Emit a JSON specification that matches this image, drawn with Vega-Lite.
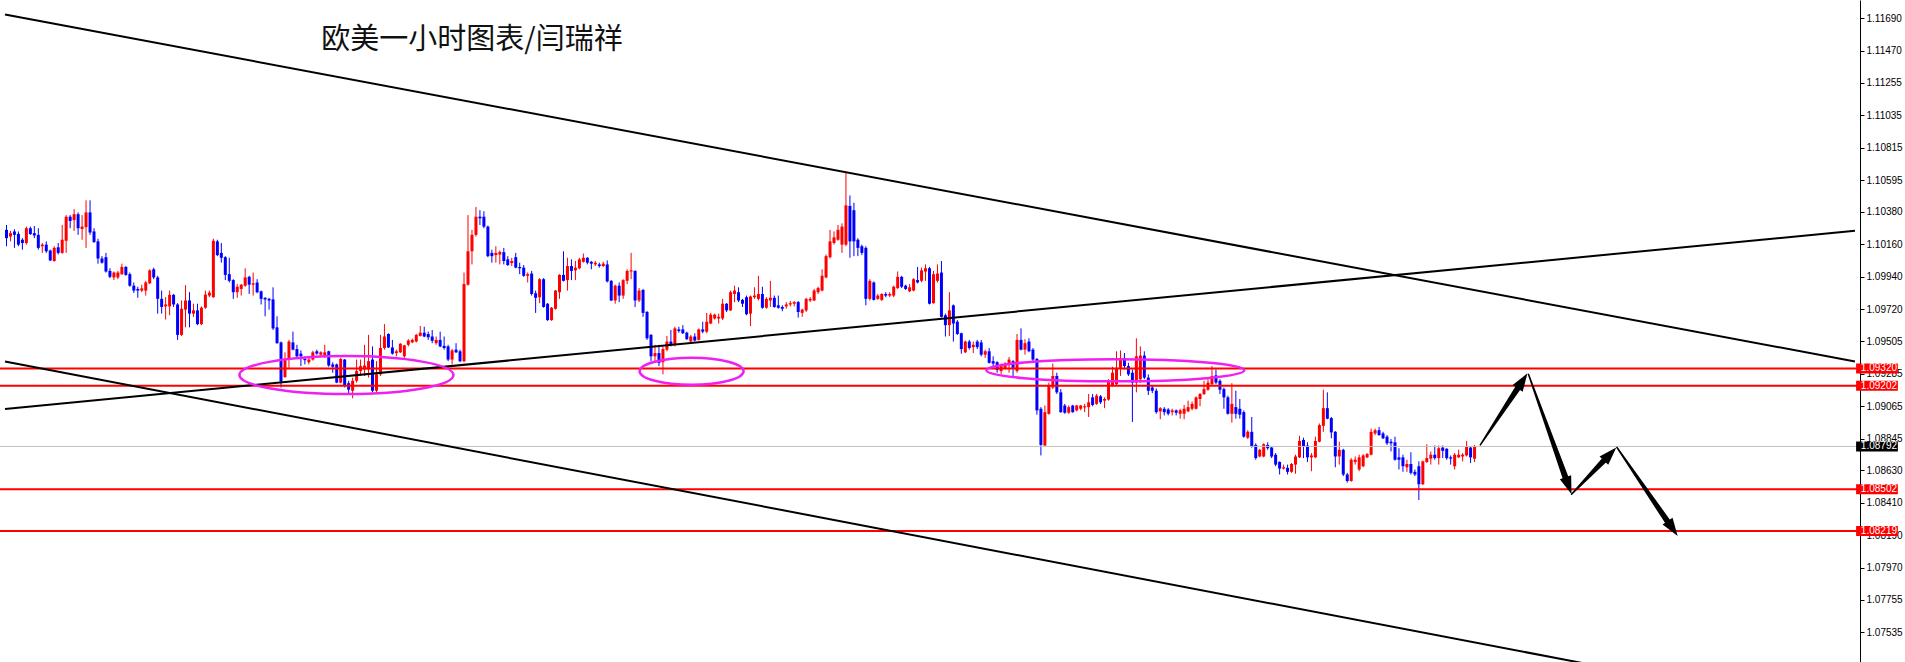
{
"$schema":"https://vega.github.io/schema/vega-lite/v6.json",
"width":1860,"height":662,"autosize":"none","padding":{"left":0,"top":0,"right":45,"bottom":0},"background":"white",
"config":{"view":{"stroke":null},"font":"Liberation Sans",
 "axisY":{"grid":false,"domainColor":"#000000","domainWidth":1,"tickColor":"#000000","tickSize":4,"tickWidth":1,"labelColor":"#000000","labelFont":"Liberation Sans","labelFontSize":10,"labelPadding":2,"labelBaseline":"middle","labelOverlap":false,"labelFlush":false,"title":null}},
"resolve":{"scale":{"shape":"independent"}},
"datasets":{
"candles":[
{"t":0,"o":1.10258,"h":1.10291,"l":1.10147,"c":1.10202},
{"t":1,"o":1.10213,"h":1.10251,"l":1.10180,"c":1.10236},
{"t":2,"o":1.10247,"h":1.10262,"l":1.10136,"c":1.10224},
{"t":3,"o":1.10231,"h":1.10247,"l":1.10147,"c":1.10158},
{"t":4,"o":1.10191,"h":1.10202,"l":1.10124,"c":1.10169},
{"t":5,"o":1.10169,"h":1.10280,"l":1.10158,"c":1.10269},
{"t":6,"o":1.10269,"h":1.10280,"l":1.10224,"c":1.10229},
{"t":7,"o":1.10236,"h":1.10284,"l":1.10202,"c":1.10220},
{"t":8,"o":1.10224,"h":1.10269,"l":1.10124,"c":1.10136},
{"t":9,"o":1.10147,"h":1.10169,"l":1.10102,"c":1.10158},
{"t":10,"o":1.10158,"h":1.10180,"l":1.10102,"c":1.10113},
{"t":11,"o":1.10118,"h":1.10124,"l":1.10047,"c":1.10051},
{"t":12,"o":1.10047,"h":1.10147,"l":1.10042,"c":1.10136},
{"t":13,"o":1.10140,"h":1.10169,"l":1.10091,"c":1.10102},
{"t":14,"o":1.10102,"h":1.10291,"l":1.10096,"c":1.10191},
{"t":15,"o":1.10184,"h":1.10358,"l":1.10102,"c":1.10347},
{"t":16,"o":1.10347,"h":1.10358,"l":1.10269,"c":1.10318},
{"t":17,"o":1.10324,"h":1.10398,"l":1.10251,"c":1.10364},
{"t":18,"o":1.10364,"h":1.10376,"l":1.10224,"c":1.10269},
{"t":19,"o":1.10264,"h":1.10358,"l":1.10191,"c":1.10280},
{"t":20,"o":1.10276,"h":1.10458,"l":1.10136,"c":1.10376},
{"t":21,"o":1.10376,"h":1.10458,"l":1.10224,"c":1.10240},
{"t":22,"o":1.10247,"h":1.10269,"l":1.10169,"c":1.10176},
{"t":23,"o":1.10180,"h":1.10198,"l":1.10029,"c":1.10064},
{"t":24,"o":1.10064,"h":1.10080,"l":1.10029,"c":1.10036},
{"t":25,"o":1.10073,"h":1.10102,"l":1.09969,"c":1.09976},
{"t":26,"o":1.09980,"h":1.09998,"l":1.09931,"c":1.09940},
{"t":27,"o":1.09936,"h":1.09976,"l":1.09918,"c":1.09969},
{"t":28,"o":1.09936,"h":1.09980,"l":1.09924,"c":1.09969},
{"t":29,"o":1.09958,"h":1.10029,"l":1.09953,"c":1.10007},
{"t":30,"o":1.10007,"h":1.10013,"l":1.09947,"c":1.09953},
{"t":31,"o":1.09958,"h":1.09969,"l":1.09873,"c":1.09880},
{"t":32,"o":1.09880,"h":1.09902,"l":1.09831,"c":1.09847},
{"t":33,"o":1.09858,"h":1.09873,"l":1.09798,"c":1.09847},
{"t":34,"o":1.09847,"h":1.09887,"l":1.09836,"c":1.09862},
{"t":35,"o":1.09847,"h":1.09913,"l":1.09813,"c":1.09902},
{"t":36,"o":1.09896,"h":1.09991,"l":1.09891,"c":1.09984},
{"t":37,"o":1.09991,"h":1.10002,"l":1.09924,"c":1.09936},
{"t":38,"o":1.09936,"h":1.09947,"l":1.09691,"c":1.09791},
{"t":39,"o":1.09791,"h":1.09847,"l":1.09691,"c":1.09736},
{"t":40,"o":1.09740,"h":1.09802,"l":1.09651,"c":1.09753},
{"t":41,"o":1.09740,"h":1.09847,"l":1.09680,"c":1.09818},
{"t":42,"o":1.09818,"h":1.09824,"l":1.09736,"c":1.09753},
{"t":43,"o":1.09753,"h":1.09762,"l":1.09513,"c":1.09547},
{"t":44,"o":1.09547,"h":1.09780,"l":1.09540,"c":1.09724},
{"t":45,"o":1.09718,"h":1.09884,"l":1.09598,"c":1.09780},
{"t":46,"o":1.09780,"h":1.09836,"l":1.09598,"c":1.09691},
{"t":47,"o":1.09691,"h":1.09758,"l":1.09669,"c":1.09713},
{"t":48,"o":1.09713,"h":1.09758,"l":1.09613,"c":1.09620},
{"t":49,"o":1.09620,"h":1.09740,"l":1.09613,"c":1.09731},
{"t":50,"o":1.09731,"h":1.09847,"l":1.09724,"c":1.09820},
{"t":51,"o":1.09813,"h":1.09847,"l":1.09802,"c":1.09833},
{"t":52,"o":1.09802,"h":1.10198,"l":1.09798,"c":1.10184},
{"t":53,"o":1.10180,"h":1.10191,"l":1.10080,"c":1.10087},
{"t":54,"o":1.10102,"h":1.10169,"l":1.10036,"c":1.10069},
{"t":55,"o":1.10073,"h":1.10080,"l":1.09918,"c":1.09953},
{"t":56,"o":1.09958,"h":1.10069,"l":1.09902,"c":1.09913},
{"t":57,"o":1.09918,"h":1.09924,"l":1.09791,"c":1.09836},
{"t":58,"o":1.09836,"h":1.09891,"l":1.09798,"c":1.09873},
{"t":59,"o":1.09858,"h":1.09891,"l":1.09813,"c":1.09887},
{"t":60,"o":1.09880,"h":1.09998,"l":1.09873,"c":1.09936},
{"t":61,"o":1.09940,"h":1.09947,"l":1.09824,"c":1.09887},
{"t":62,"o":1.09887,"h":1.09969,"l":1.09813,"c":1.09896},
{"t":63,"o":1.09902,"h":1.09924,"l":1.09829,"c":1.09836},
{"t":64,"o":1.09842,"h":1.09847,"l":1.09753,"c":1.09791},
{"t":65,"o":1.09798,"h":1.09802,"l":1.09673,"c":1.09787},
{"t":66,"o":1.09791,"h":1.09798,"l":1.09718,"c":1.09780},
{"t":67,"o":1.09787,"h":1.09869,"l":1.09580,"c":1.09591},
{"t":68,"o":1.09598,"h":1.09673,"l":1.09487,"c":1.09491},
{"t":69,"o":1.09496,"h":1.09502,"l":1.09191,"c":1.09231},
{"t":70,"o":1.09262,"h":1.09429,"l":1.09256,"c":1.09380},
{"t":71,"o":1.09380,"h":1.09513,"l":1.09324,"c":1.09502},
{"t":72,"o":1.09496,"h":1.09569,"l":1.09442,"c":1.09447},
{"t":73,"o":1.09451,"h":1.09480,"l":1.09391,"c":1.09402},
{"t":74,"o":1.09420,"h":1.09442,"l":1.09336,"c":1.09402},
{"t":75,"o":1.09384,"h":1.09402,"l":1.09347,"c":1.09376},
{"t":76,"o":1.09362,"h":1.09391,"l":1.09347,"c":1.09380},
{"t":77,"o":1.09380,"h":1.09440,"l":1.09373,"c":1.09429},
{"t":78,"o":1.09436,"h":1.09447,"l":1.09413,"c":1.09420},
{"t":79,"o":1.09413,"h":1.09436,"l":1.09402,"c":1.09429},
{"t":80,"o":1.09402,"h":1.09480,"l":1.09391,"c":1.09429},
{"t":81,"o":1.09436,"h":1.09440,"l":1.09331,"c":1.09340},
{"t":82,"o":1.09347,"h":1.09362,"l":1.09291,"c":1.09331},
{"t":83,"o":1.09347,"h":1.09353,"l":1.09220,"c":1.09224},
{"t":84,"o":1.09224,"h":1.09391,"l":1.09220,"c":1.09384},
{"t":85,"o":1.09380,"h":1.09384,"l":1.09191,"c":1.09202},
{"t":86,"o":1.09220,"h":1.09236,"l":1.09153,"c":1.09176},
{"t":87,"o":1.09169,"h":1.09258,"l":1.09118,"c":1.09236},
{"t":88,"o":1.09236,"h":1.09380,"l":1.09224,"c":1.09302},
{"t":89,"o":1.09302,"h":1.09380,"l":1.09269,"c":1.09336},
{"t":90,"o":1.09313,"h":1.09480,"l":1.09269,"c":1.09340},
{"t":91,"o":1.09313,"h":1.09547,"l":1.09258,"c":1.09369},
{"t":92,"o":1.09380,"h":1.09469,"l":1.09158,"c":1.09169},
{"t":93,"o":1.09169,"h":1.09369,"l":1.09158,"c":1.09280},
{"t":94,"o":1.09280,"h":1.09547,"l":1.09269,"c":1.09458},
{"t":95,"o":1.09458,"h":1.09620,"l":1.09447,"c":1.09536},
{"t":96,"o":1.09553,"h":1.09558,"l":1.09458,"c":1.09462},
{"t":97,"o":1.09462,"h":1.09513,"l":1.09413,"c":1.09420},
{"t":98,"o":1.09424,"h":1.09447,"l":1.09402,"c":1.09436},
{"t":99,"o":1.09429,"h":1.09491,"l":1.09424,"c":1.09487},
{"t":100,"o":1.09402,"h":1.09480,"l":1.09391,"c":1.09476},
{"t":101,"o":1.09480,"h":1.09518,"l":1.09469,"c":1.09509},
{"t":102,"o":1.09496,"h":1.09522,"l":1.09491,"c":1.09513},
{"t":103,"o":1.09502,"h":1.09553,"l":1.09496,"c":1.09547},
{"t":104,"o":1.09540,"h":1.09607,"l":1.09536,"c":1.09562},
{"t":105,"o":1.09562,"h":1.09602,"l":1.09531,"c":1.09536},
{"t":106,"o":1.09553,"h":1.09569,"l":1.09513,"c":1.09531},
{"t":107,"o":1.09536,"h":1.09580,"l":1.09491,"c":1.09507},
{"t":108,"o":1.09491,"h":1.09536,"l":1.09480,"c":1.09513},
{"t":109,"o":1.09513,"h":1.09569,"l":1.09464,"c":1.09469},
{"t":110,"o":1.09473,"h":1.09536,"l":1.09447,"c":1.09458},
{"t":111,"o":1.09469,"h":1.09480,"l":1.09369,"c":1.09380},
{"t":112,"o":1.09380,"h":1.09451,"l":1.09347,"c":1.09442},
{"t":113,"o":1.09447,"h":1.09491,"l":1.09424,"c":1.09429},
{"t":114,"o":1.09436,"h":1.09447,"l":1.09362,"c":1.09369},
{"t":115,"o":1.09369,"h":1.09969,"l":1.09362,"c":1.09891},
{"t":116,"o":1.09887,"h":1.10358,"l":1.09880,"c":1.10113},
{"t":117,"o":1.10113,"h":1.10258,"l":1.10024,"c":1.10224},
{"t":118,"o":1.10224,"h":1.10413,"l":1.10213,"c":1.10347},
{"t":119,"o":1.10347,"h":1.10391,"l":1.10291,"c":1.10336},
{"t":120,"o":1.10347,"h":1.10384,"l":1.10269,"c":1.10280},
{"t":121,"o":1.10280,"h":1.10287,"l":1.10073,"c":1.10080},
{"t":122,"o":1.10102,"h":1.10124,"l":1.10036,"c":1.10080},
{"t":123,"o":1.10087,"h":1.10147,"l":1.10036,"c":1.10102},
{"t":124,"o":1.10091,"h":1.10118,"l":1.10024,"c":1.10109},
{"t":125,"o":1.10107,"h":1.10136,"l":1.10024,"c":1.10047},
{"t":126,"o":1.10058,"h":1.10080,"l":1.10013,"c":1.10020},
{"t":127,"o":1.10033,"h":1.10069,"l":1.10013,"c":1.10047},
{"t":128,"o":1.10073,"h":1.10102,"l":1.09998,"c":1.10002},
{"t":129,"o":1.10007,"h":1.10036,"l":1.09958,"c":1.09998},
{"t":130,"o":1.10002,"h":1.10020,"l":1.09940,"c":1.09947},
{"t":131,"o":1.09947,"h":1.09969,"l":1.09902,"c":1.09958},
{"t":132,"o":1.09962,"h":1.09980,"l":1.09813,"c":1.09824},
{"t":133,"o":1.09829,"h":1.09847,"l":1.09696,"c":1.09798},
{"t":134,"o":1.09802,"h":1.09931,"l":1.09762,"c":1.09924},
{"t":135,"o":1.09924,"h":1.09931,"l":1.09731,"c":1.09736},
{"t":136,"o":1.09758,"h":1.09762,"l":1.09642,"c":1.09647},
{"t":137,"o":1.09647,"h":1.09736,"l":1.09642,"c":1.09731},
{"t":138,"o":1.09724,"h":1.09851,"l":1.09718,"c":1.09847},
{"t":139,"o":1.09836,"h":1.09958,"l":1.09791,"c":1.09953},
{"t":140,"o":1.09953,"h":1.10113,"l":1.09909,"c":1.09913},
{"t":141,"o":1.09918,"h":1.10069,"l":1.09847,"c":1.10013},
{"t":142,"o":1.10013,"h":1.10058,"l":1.09918,"c":1.09980},
{"t":143,"o":1.09984,"h":1.10047,"l":1.09918,"c":1.10002},
{"t":144,"o":1.09998,"h":1.10069,"l":1.09991,"c":1.10058},
{"t":145,"o":1.10042,"h":1.10098,"l":1.10036,"c":1.10069},
{"t":146,"o":1.10069,"h":1.10073,"l":1.10024,"c":1.10036},
{"t":147,"o":1.10042,"h":1.10047,"l":1.09991,"c":1.10029},
{"t":148,"o":1.10024,"h":1.10047,"l":1.10013,"c":1.10036},
{"t":149,"o":1.10024,"h":1.10036,"l":1.10002,"c":1.10013},
{"t":150,"o":1.10013,"h":1.10042,"l":1.10007,"c":1.10029},
{"t":151,"o":1.10024,"h":1.10051,"l":1.09902,"c":1.09909},
{"t":152,"o":1.09913,"h":1.09918,"l":1.09776,"c":1.09780},
{"t":153,"o":1.09780,"h":1.09887,"l":1.09758,"c":1.09880},
{"t":154,"o":1.09880,"h":1.09902,"l":1.09769,"c":1.09813},
{"t":155,"o":1.09813,"h":1.09924,"l":1.09791,"c":1.09918},
{"t":156,"o":1.09913,"h":1.09991,"l":1.09891,"c":1.09980},
{"t":157,"o":1.09976,"h":1.10102,"l":1.09924,"c":1.09984},
{"t":158,"o":1.09980,"h":1.09984,"l":1.09736,"c":1.09780},
{"t":159,"o":1.09780,"h":1.09864,"l":1.09769,"c":1.09847},
{"t":160,"o":1.09851,"h":1.09858,"l":1.09669,"c":1.09696},
{"t":161,"o":1.09702,"h":1.09709,"l":1.09513,"c":1.09524},
{"t":162,"o":1.09547,"h":1.09553,"l":1.09369,"c":1.09402},
{"t":163,"o":1.09402,"h":1.09480,"l":1.09358,"c":1.09424},
{"t":164,"o":1.09424,"h":1.09480,"l":1.09336,"c":1.09358},
{"t":165,"o":1.09362,"h":1.09469,"l":1.09280,"c":1.09451},
{"t":166,"o":1.09447,"h":1.09540,"l":1.09436,"c":1.09502},
{"t":167,"o":1.09502,"h":1.09580,"l":1.09469,"c":1.09480},
{"t":168,"o":1.09480,"h":1.09602,"l":1.09469,"c":1.09591},
{"t":169,"o":1.09584,"h":1.09602,"l":1.09562,"c":1.09573},
{"t":170,"o":1.09584,"h":1.09613,"l":1.09553,"c":1.09558},
{"t":171,"o":1.09562,"h":1.09569,"l":1.09513,"c":1.09518},
{"t":172,"o":1.09502,"h":1.09547,"l":1.09496,"c":1.09536},
{"t":173,"o":1.09536,"h":1.09558,"l":1.09502,"c":1.09509},
{"t":174,"o":1.09513,"h":1.09591,"l":1.09509,"c":1.09584},
{"t":175,"o":1.09584,"h":1.09636,"l":1.09558,"c":1.09569},
{"t":176,"o":1.09569,"h":1.09696,"l":1.09558,"c":1.09636},
{"t":177,"o":1.09624,"h":1.09696,"l":1.09620,"c":1.09684},
{"t":178,"o":1.09658,"h":1.09691,"l":1.09651,"c":1.09684},
{"t":179,"o":1.09658,"h":1.09691,"l":1.09624,"c":1.09669},
{"t":180,"o":1.09658,"h":1.09791,"l":1.09647,"c":1.09758},
{"t":181,"o":1.09758,"h":1.09762,"l":1.09702,"c":1.09713},
{"t":182,"o":1.09713,"h":1.09847,"l":1.09709,"c":1.09836},
{"t":183,"o":1.09824,"h":1.09880,"l":1.09769,"c":1.09847},
{"t":184,"o":1.09836,"h":1.09869,"l":1.09769,"c":1.09780},
{"t":185,"o":1.09784,"h":1.09791,"l":1.09736,"c":1.09758},
{"t":186,"o":1.09802,"h":1.09813,"l":1.09680,"c":1.09687},
{"t":187,"o":1.09691,"h":1.09813,"l":1.09607,"c":1.09807},
{"t":188,"o":1.09802,"h":1.09869,"l":1.09791,"c":1.09813},
{"t":189,"o":1.09791,"h":1.09947,"l":1.09780,"c":1.09824},
{"t":190,"o":1.09824,"h":1.09873,"l":1.09724,"c":1.09731},
{"t":191,"o":1.09731,"h":1.09802,"l":1.09724,"c":1.09791},
{"t":192,"o":1.09780,"h":1.09913,"l":1.09736,"c":1.09798},
{"t":193,"o":1.09798,"h":1.09813,"l":1.09731,"c":1.09736},
{"t":194,"o":1.09747,"h":1.09813,"l":1.09724,"c":1.09731},
{"t":195,"o":1.09736,"h":1.09747,"l":1.09707,"c":1.09724},
{"t":196,"o":1.09740,"h":1.09769,"l":1.09724,"c":1.09753},
{"t":197,"o":1.09753,"h":1.09776,"l":1.09740,"c":1.09762},
{"t":198,"o":1.09758,"h":1.09776,"l":1.09740,"c":1.09769},
{"t":199,"o":1.09769,"h":1.09776,"l":1.09664,"c":1.09702},
{"t":200,"o":1.09696,"h":1.09724,"l":1.09669,"c":1.09718},
{"t":201,"o":1.09713,"h":1.09798,"l":1.09702,"c":1.09791},
{"t":202,"o":1.09780,"h":1.09802,"l":1.09769,"c":1.09791},
{"t":203,"o":1.09780,"h":1.09858,"l":1.09776,"c":1.09847},
{"t":204,"o":1.09836,"h":1.09873,"l":1.09824,"c":1.09864},
{"t":205,"o":1.09847,"h":1.09991,"l":1.09842,"c":1.09947},
{"t":206,"o":1.09936,"h":1.10091,"l":1.09931,"c":1.10080},
{"t":207,"o":1.10073,"h":1.10258,"l":1.10064,"c":1.10180},
{"t":208,"o":1.10169,"h":1.10247,"l":1.10158,"c":1.10207},
{"t":209,"o":1.10191,"h":1.10291,"l":1.10184,"c":1.10258},
{"t":210,"o":1.10158,"h":1.10302,"l":1.10102,"c":1.10280},
{"t":211,"o":1.10158,"h":1.10647,"l":1.10147,"c":1.10424},
{"t":212,"o":1.10420,"h":1.10491,"l":1.10069,"c":1.10180},
{"t":213,"o":1.10391,"h":1.10442,"l":1.10080,"c":1.10180},
{"t":214,"o":1.10191,"h":1.10202,"l":1.10080,"c":1.10136},
{"t":215,"o":1.10147,"h":1.10158,"l":1.10087,"c":1.10102},
{"t":216,"o":1.10136,"h":1.10147,"l":1.09747,"c":1.09791},
{"t":217,"o":1.09791,"h":1.09924,"l":1.09780,"c":1.09913},
{"t":218,"o":1.09902,"h":1.09909,"l":1.09780,"c":1.09784},
{"t":219,"o":1.09791,"h":1.09824,"l":1.09784,"c":1.09813},
{"t":220,"o":1.09784,"h":1.09829,"l":1.09776,"c":1.09824},
{"t":221,"o":1.09824,"h":1.09836,"l":1.09802,"c":1.09813},
{"t":222,"o":1.09813,"h":1.09836,"l":1.09802,"c":1.09824},
{"t":223,"o":1.09813,"h":1.09880,"l":1.09802,"c":1.09873},
{"t":224,"o":1.09864,"h":1.09976,"l":1.09858,"c":1.09940},
{"t":225,"o":1.09940,"h":1.09947,"l":1.09864,"c":1.09873},
{"t":226,"o":1.09880,"h":1.09887,"l":1.09851,"c":1.09858},
{"t":227,"o":1.09842,"h":1.09891,"l":1.09836,"c":1.09869},
{"t":228,"o":1.09847,"h":1.09931,"l":1.09842,"c":1.09924},
{"t":229,"o":1.09918,"h":1.10007,"l":1.09896,"c":1.09902},
{"t":230,"o":1.09913,"h":1.10002,"l":1.09902,"c":1.09984},
{"t":231,"o":1.09976,"h":1.10024,"l":1.09913,"c":1.09998},
{"t":232,"o":1.09998,"h":1.10007,"l":1.09753,"c":1.09758},
{"t":233,"o":1.09762,"h":1.09980,"l":1.09758,"c":1.09958},
{"t":234,"o":1.09913,"h":1.10024,"l":1.09902,"c":1.09962},
{"t":235,"o":1.09969,"h":1.10047,"l":1.09664,"c":1.09669},
{"t":236,"o":1.09680,"h":1.09691,"l":1.09536,"c":1.09613},
{"t":237,"o":1.09613,"h":1.09836,"l":1.09540,"c":1.09713},
{"t":238,"o":1.09747,"h":1.09753,"l":1.09502,"c":1.09624},
{"t":239,"o":1.09636,"h":1.09647,"l":1.09547,"c":1.09553},
{"t":240,"o":1.09558,"h":1.09562,"l":1.09420,"c":1.09451},
{"t":241,"o":1.09429,"h":1.09509,"l":1.09424,"c":1.09502},
{"t":242,"o":1.09502,"h":1.09513,"l":1.09447,"c":1.09458},
{"t":243,"o":1.09464,"h":1.09502,"l":1.09424,"c":1.09480},
{"t":244,"o":1.09502,"h":1.09513,"l":1.09451,"c":1.09464},
{"t":245,"o":1.09496,"h":1.09513,"l":1.09402,"c":1.09413},
{"t":246,"o":1.09413,"h":1.09447,"l":1.09391,"c":1.09436},
{"t":247,"o":1.09436,"h":1.09458,"l":1.09353,"c":1.09358},
{"t":248,"o":1.09369,"h":1.09402,"l":1.09324,"c":1.09353},
{"t":249,"o":1.09362,"h":1.09369,"l":1.09291,"c":1.09309},
{"t":250,"o":1.09302,"h":1.09353,"l":1.09280,"c":1.09336},
{"t":251,"o":1.09324,"h":1.09362,"l":1.09313,"c":1.09353},
{"t":252,"o":1.09347,"h":1.09398,"l":1.09291,"c":1.09380},
{"t":253,"o":1.09369,"h":1.09376,"l":1.09258,"c":1.09324},
{"t":254,"o":1.09302,"h":1.09553,"l":1.09291,"c":1.09513},
{"t":255,"o":1.09513,"h":1.09591,"l":1.09442,"c":1.09447},
{"t":256,"o":1.09447,"h":1.09518,"l":1.09413,"c":1.09491},
{"t":257,"o":1.09502,"h":1.09524,"l":1.09429,"c":1.09436},
{"t":258,"o":1.09447,"h":1.09458,"l":1.09369,"c":1.09380},
{"t":259,"o":1.09384,"h":1.09391,"l":1.09007,"c":1.09036},
{"t":260,"o":1.09047,"h":1.09058,"l":1.08731,"c":1.08802},
{"t":261,"o":1.08798,"h":1.09069,"l":1.08791,"c":1.09024},
{"t":262,"o":1.09013,"h":1.09224,"l":1.09007,"c":1.09202},
{"t":263,"o":1.09191,"h":1.09353,"l":1.09180,"c":1.09269},
{"t":264,"o":1.09269,"h":1.09291,"l":1.09147,"c":1.09158},
{"t":265,"o":1.09158,"h":1.09180,"l":1.09020,"c":1.09024},
{"t":266,"o":1.09069,"h":1.09080,"l":1.09013,"c":1.09020},
{"t":267,"o":1.09020,"h":1.09069,"l":1.09013,"c":1.09058},
{"t":268,"o":1.09069,"h":1.09073,"l":1.09020,"c":1.09024},
{"t":269,"o":1.09036,"h":1.09073,"l":1.09029,"c":1.09069},
{"t":270,"o":1.09047,"h":1.09073,"l":1.09036,"c":1.09069},
{"t":271,"o":1.09056,"h":1.09080,"l":1.09024,"c":1.09064},
{"t":272,"o":1.09058,"h":1.09147,"l":1.08991,"c":1.09091},
{"t":273,"o":1.09124,"h":1.09147,"l":1.09064,"c":1.09073},
{"t":274,"o":1.09080,"h":1.09147,"l":1.09073,"c":1.09136},
{"t":275,"o":1.09131,"h":1.09140,"l":1.09080,"c":1.09091},
{"t":276,"o":1.09102,"h":1.09124,"l":1.09051,"c":1.09113},
{"t":277,"o":1.09109,"h":1.09247,"l":1.09102,"c":1.09229},
{"t":278,"o":1.09202,"h":1.09331,"l":1.09198,"c":1.09291},
{"t":279,"o":1.09213,"h":1.09436,"l":1.09202,"c":1.09324},
{"t":280,"o":1.09324,"h":1.09442,"l":1.09269,"c":1.09391},
{"t":281,"o":1.09391,"h":1.09424,"l":1.09313,"c":1.09336},
{"t":282,"o":1.09336,"h":1.09358,"l":1.09269,"c":1.09280},
{"t":283,"o":1.09291,"h":1.09313,"l":1.08958,"c":1.09224},
{"t":284,"o":1.09224,"h":1.09524,"l":1.09158,"c":1.09402},
{"t":285,"o":1.09247,"h":1.09469,"l":1.09224,"c":1.09407},
{"t":286,"o":1.09407,"h":1.09436,"l":1.09247,"c":1.09258},
{"t":287,"o":1.09258,"h":1.09280,"l":1.09140,"c":1.09169},
{"t":288,"o":1.09191,"h":1.09202,"l":1.09153,"c":1.09169},
{"t":289,"o":1.09169,"h":1.09184,"l":1.09013,"c":1.09024},
{"t":290,"o":1.09029,"h":1.09058,"l":1.08976,"c":1.09051},
{"t":291,"o":1.09047,"h":1.09058,"l":1.09002,"c":1.09024},
{"t":292,"o":1.09042,"h":1.09051,"l":1.09002,"c":1.09013},
{"t":293,"o":1.09024,"h":1.09047,"l":1.09002,"c":1.09036},
{"t":294,"o":1.09036,"h":1.09042,"l":1.09002,"c":1.09020},
{"t":295,"o":1.09013,"h":1.09047,"l":1.08980,"c":1.09036},
{"t":296,"o":1.09013,"h":1.09073,"l":1.08976,"c":1.09047},
{"t":297,"o":1.09029,"h":1.09102,"l":1.09024,"c":1.09058},
{"t":298,"o":1.09047,"h":1.09096,"l":1.09036,"c":1.09080},
{"t":299,"o":1.09047,"h":1.09131,"l":1.09042,"c":1.09124},
{"t":300,"o":1.09113,"h":1.09153,"l":1.09064,"c":1.09147},
{"t":301,"o":1.09147,"h":1.09236,"l":1.09140,"c":1.09180},
{"t":302,"o":1.09176,"h":1.09247,"l":1.09169,"c":1.09224},
{"t":303,"o":1.09213,"h":1.09336,"l":1.09207,"c":1.09269},
{"t":304,"o":1.09273,"h":1.09313,"l":1.09213,"c":1.09224},
{"t":305,"o":1.09236,"h":1.09247,"l":1.09147,"c":1.09176},
{"t":306,"o":1.09180,"h":1.09191,"l":1.09047,"c":1.09124},
{"t":307,"o":1.09124,"h":1.09136,"l":1.09007,"c":1.09013},
{"t":308,"o":1.09013,"h":1.09220,"l":1.08953,"c":1.09080},
{"t":309,"o":1.09058,"h":1.09169,"l":1.08980,"c":1.09013},
{"t":310,"o":1.09047,"h":1.09113,"l":1.08980,"c":1.09007},
{"t":311,"o":1.09024,"h":1.09036,"l":1.08851,"c":1.08858},
{"t":312,"o":1.08851,"h":1.08902,"l":1.08842,"c":1.08891},
{"t":313,"o":1.08891,"h":1.08991,"l":1.08784,"c":1.08791},
{"t":314,"o":1.08802,"h":1.08813,"l":1.08702,"c":1.08713},
{"t":315,"o":1.08724,"h":1.08776,"l":1.08718,"c":1.08769},
{"t":316,"o":1.08724,"h":1.08813,"l":1.08718,"c":1.08807},
{"t":317,"o":1.08802,"h":1.08820,"l":1.08769,"c":1.08780},
{"t":318,"o":1.08784,"h":1.08791,"l":1.08713,"c":1.08724},
{"t":319,"o":1.08736,"h":1.08747,"l":1.08658,"c":1.08669},
{"t":320,"o":1.08687,"h":1.08691,"l":1.08602,"c":1.08642},
{"t":321,"o":1.08642,"h":1.08669,"l":1.08636,"c":1.08651},
{"t":322,"o":1.08647,"h":1.08669,"l":1.08602,"c":1.08620},
{"t":323,"o":1.08620,"h":1.08680,"l":1.08613,"c":1.08673},
{"t":324,"o":1.08669,"h":1.08736,"l":1.08607,"c":1.08724},
{"t":325,"o":1.08718,"h":1.08864,"l":1.08713,"c":1.08829},
{"t":326,"o":1.08836,"h":1.08851,"l":1.08713,"c":1.08791},
{"t":327,"o":1.08798,"h":1.08820,"l":1.08687,"c":1.08718},
{"t":328,"o":1.08718,"h":1.08747,"l":1.08624,"c":1.08731},
{"t":329,"o":1.08718,"h":1.08858,"l":1.08713,"c":1.08829},
{"t":330,"o":1.08824,"h":1.08947,"l":1.08820,"c":1.08936},
{"t":331,"o":1.08931,"h":1.09176,"l":1.08891,"c":1.09051},
{"t":332,"o":1.09051,"h":1.09158,"l":1.08976,"c":1.08980},
{"t":333,"o":1.08984,"h":1.08991,"l":1.08847,"c":1.08887},
{"t":334,"o":1.08891,"h":1.08896,"l":1.08651,"c":1.08724},
{"t":335,"o":1.08724,"h":1.08824,"l":1.08669,"c":1.08769},
{"t":336,"o":1.08769,"h":1.08776,"l":1.08591,"c":1.08602},
{"t":337,"o":1.08602,"h":1.08613,"l":1.08547,"c":1.08558},
{"t":338,"o":1.08558,"h":1.08713,"l":1.08553,"c":1.08702},
{"t":339,"o":1.08687,"h":1.08724,"l":1.08669,"c":1.08702},
{"t":340,"o":1.08636,"h":1.08736,"l":1.08624,"c":1.08718},
{"t":341,"o":1.08658,"h":1.08740,"l":1.08651,"c":1.08731},
{"t":342,"o":1.08718,"h":1.08747,"l":1.08713,"c":1.08740},
{"t":343,"o":1.08736,"h":1.08913,"l":1.08731,"c":1.08891},
{"t":344,"o":1.08880,"h":1.08913,"l":1.08869,"c":1.08902},
{"t":345,"o":1.08902,"h":1.08924,"l":1.08864,"c":1.08869},
{"t":346,"o":1.08880,"h":1.08891,"l":1.08842,"c":1.08847},
{"t":347,"o":1.08858,"h":1.08869,"l":1.08802,"c":1.08813},
{"t":348,"o":1.08824,"h":1.08842,"l":1.08758,"c":1.08813},
{"t":349,"o":1.08820,"h":1.08858,"l":1.08696,"c":1.08702},
{"t":350,"o":1.08718,"h":1.08780,"l":1.08636,"c":1.08702},
{"t":351,"o":1.08718,"h":1.08736,"l":1.08620,"c":1.08658},
{"t":352,"o":1.08651,"h":1.08702,"l":1.08620,"c":1.08673},
{"t":353,"o":1.08673,"h":1.08753,"l":1.08602,"c":1.08613},
{"t":354,"o":1.08620,"h":1.08636,"l":1.08591,"c":1.08602},
{"t":355,"o":1.08658,"h":1.08691,"l":1.08429,"c":1.08536},
{"t":356,"o":1.08536,"h":1.08696,"l":1.08531,"c":1.08691},
{"t":357,"o":1.08687,"h":1.08807,"l":1.08680,"c":1.08713},
{"t":358,"o":1.08709,"h":1.08758,"l":1.08669,"c":1.08736},
{"t":359,"o":1.08736,"h":1.08798,"l":1.08702,"c":1.08713},
{"t":360,"o":1.08713,"h":1.08798,"l":1.08669,"c":1.08780},
{"t":361,"o":1.08784,"h":1.08798,"l":1.08713,"c":1.08762},
{"t":362,"o":1.08776,"h":1.08780,"l":1.08702,"c":1.08713},
{"t":363,"o":1.08718,"h":1.08731,"l":1.08669,"c":1.08709},
{"t":364,"o":1.08658,"h":1.08747,"l":1.08636,"c":1.08736},
{"t":365,"o":1.08718,"h":1.08769,"l":1.08713,"c":1.08736},
{"t":366,"o":1.08724,"h":1.08747,"l":1.08691,"c":1.08736},
{"t":367,"o":1.08731,"h":1.08829,"l":1.08724,"c":1.08791},
{"t":368,"o":1.08784,"h":1.08791,"l":1.08680,"c":1.08718},
{"t":369,"o":1.08709,"h":1.08802,"l":1.08687,"c":1.08792}
],
"levels":[
{"level":1.0932,"kind":"line"},
{"level":1.09202,"kind":"line"},
{"level":1.08502,"kind":"line"},
{"level":1.08219,"kind":"line"},
{"level":1.08792,"kind":"price"}
],
"trend":[
{"line":"a","t":-0.375,"p":1.11716},{"line":"a","t":464.625,"p":1.09367},
{"line":"b","t":-0.375,"p":1.09045},{"line":"b","t":464.625,"p":1.10252},
{"line":"c","t":-0.375,"p":1.09367},{"line":"c","t":464.625,"p":1.06973}
],
"ellipses":[
{"id":"e1","t":85.45,"p":1.09275},
{"id":"e2","t":172.2,"p":1.09301},
{"id":"e3","t":278.7,"p":1.09307}
],
"shafts":[
{"arrow":"a1","t":370.45,"p":1.08802,"end":0},{"arrow":"a1","t":380.125,"p":1.09197,"end":1},
{"arrow":"a2","t":382.55,"p":1.0928,"end":0},{"arrow":"a2","t":392.025,"p":1.08569,"end":1},
{"arrow":"a3","t":393.375,"p":1.08469,"end":0},{"arrow":"a3","t":401.875,"p":1.08707,"end":1},
{"arrow":"a4","t":404.8,"p":1.08785,"end":0},{"arrow":"a4","t":417.8,"p":1.08273,"end":1}
],
"heads":[
{"arrow":"a1","t":382.3,"p":1.09287},
{"arrow":"a2","t":393.375,"p":1.08469},
{"arrow":"a3","t":404.625,"p":1.08785},
{"arrow":"a4","t":420.05,"p":1.08185}
],
"title":[{"label":"欧美一小时图表/闫瑞祥"}]
},
"layer":[
{"data":{"name":"candles"},"mark":{"type":"rule","strokeWidth":1},
 "encoding":{
  "x":{"field":"t","type":"quantitative","scale":{"domain":[-0.375,464.625],"nice":false,"zero":false},"axis":null},
  "y":{"field":"h","type":"quantitative","scale":{"domain":[1.0736667,1.1178],"nice":false,"zero":false},
       "axis":{"orient":"right","title":null,"values":[1.1169,1.1147,1.11255,1.11035,1.10815,1.10595,1.1038,1.1016,1.0994,1.0972,1.09505,1.09285,1.09065,1.08845,1.0863,1.0841,1.0819,1.0797,1.07755,1.07535],"format":".5f"}},
  "y2":{"field":"l"},
  "color":{"condition":{"test":"datum.c >= datum.o","value":"#ff0000"},"value":"#0000ff"}
 }},
{"data":{"name":"candles"},"mark":{"type":"bar","size":3},
 "encoding":{
  "x":{"field":"t","type":"quantitative","scale":{"domain":[-0.375,464.625],"nice":false,"zero":false},"axis":null},
  "y":{"field":"o","type":"quantitative","scale":{"domain":[1.0736667,1.1178],"nice":false,"zero":false},
       "axis":{"orient":"right","title":null,"values":[1.1169,1.1147,1.11255,1.11035,1.10815,1.10595,1.1038,1.1016,1.0994,1.0972,1.09505,1.09285,1.09065,1.08845,1.0863,1.0841,1.0819,1.0797,1.07755,1.07535],"format":".5f"}},
  "y2":{"field":"c"},
  "color":{"condition":{"test":"datum.c >= datum.o","value":"#ff0000"},"value":"#0000ff"}
 }},
{"data":{"name":"levels"},"mark":{"type":"rule"},
 "encoding":{
  "y":{"field":"level","type":"quantitative","scale":{"domain":[1.0736667,1.1178],"nice":false,"zero":false},
       "axis":{"orient":"right","title":null,"values":[1.1169,1.1147,1.11255,1.11035,1.10815,1.10595,1.1038,1.1016,1.0994,1.0972,1.09505,1.09285,1.09065,1.08845,1.0863,1.0841,1.0819,1.0797,1.07755,1.07535],"format":".5f"}},
  "color":{"condition":{"test":"datum.kind == 'price'","value":"#c0c0c0"},"value":"#ff0000"},
  "strokeWidth":{"condition":{"test":"datum.kind == 'price'","value":1},"value":2}
 }},
{"data":{"name":"trend"},"mark":{"type":"line","color":"#000000","strokeWidth":2,"clip":true},
 "encoding":{
  "x":{"field":"t","type":"quantitative","scale":{"domain":[-0.375,464.625],"nice":false,"zero":false},"axis":null},
  "y":{"field":"p","type":"quantitative","scale":{"domain":[1.0736667,1.1178],"nice":false,"zero":false},
       "axis":{"orient":"right","title":null,"values":[1.1169,1.1147,1.11255,1.11035,1.10815,1.10595,1.1038,1.1016,1.0994,1.0972,1.09505,1.09285,1.09065,1.08845,1.0863,1.0841,1.0819,1.0797,1.07755,1.07535],"format":".5f"}},
  "detail":{"field":"line"}
 }},
{"data":{"name":"ellipses"},"mark":{"type":"point","filled":false,"size":4,"strokeWidth":2.5,"color":"#f020f0","opacity":1},
 "encoding":{
  "x":{"field":"t","type":"quantitative","scale":{"domain":[-0.375,464.625],"nice":false,"zero":false},"axis":null},
  "y":{"field":"p","type":"quantitative","scale":{"domain":[1.0736667,1.1178],"nice":false,"zero":false},
       "axis":{"orient":"right","title":null,"values":[1.1169,1.1147,1.11255,1.11035,1.10815,1.10595,1.1038,1.1016,1.0994,1.0972,1.09505,1.09285,1.09065,1.08845,1.0863,1.0841,1.0819,1.0797,1.07755,1.07535],"format":".5f"}},
  "shape":{"field":"id","type":"nominal","legend":null,"scale":{"domain":["e1","e2","e3"],"range":[
   "M107,0C107,10.5,59.1,19,0,19C-59.1,19,-107,10.5,-107,0C-107,-10.5,-59.1,-19,0,-19C59.1,-19,107,-10.5,107,0Z",
   "M52,0C52,7.4,28.7,13.5,0,13.5C-28.7,13.5,-52,7.4,-52,0C-52,-7.4,-28.7,-13.5,0,-13.5C28.7,-13.5,52,-7.4,52,0Z",
   "M129,0C129,6.1,71.2,11,0,11C-71.2,11,-129,6.1,-129,0C-129,-6.1,-71.2,-11,0,-11C71.2,-11,129,-6.1,129,0Z"]}}
 }},
{"data":{"name":"shafts"},"mark":{"type":"trail","color":"#000000"},
 "encoding":{
  "x":{"field":"t","type":"quantitative","scale":{"domain":[-0.375,464.625],"nice":false,"zero":false},"axis":null},
  "y":{"field":"p","type":"quantitative","scale":{"domain":[1.0736667,1.1178],"nice":false,"zero":false},
       "axis":{"orient":"right","title":null,"values":[1.1169,1.1147,1.11255,1.11035,1.10815,1.10595,1.1038,1.1016,1.0994,1.0972,1.09505,1.09285,1.09065,1.08845,1.0863,1.0841,1.0819,1.0797,1.07755,1.07535],"format":".5f"}},
  "detail":{"field":"arrow"},
  "size":{"field":"end","type":"quantitative","legend":null,"scale":{"domain":[0,1],"range":[1.5,6]}}
 }},
{"data":{"name":"heads"},"mark":{"type":"point","filled":true,"size":4,"color":"#000000","opacity":1,"strokeWidth":0},
 "encoding":{
  "x":{"field":"t","type":"quantitative","scale":{"domain":[-0.375,464.625],"nice":false,"zero":false},"axis":null},
  "y":{"field":"p","type":"quantitative","scale":{"domain":[1.0736667,1.1178],"nice":false,"zero":false},
       "axis":{"orient":"right","title":null,"values":[1.1169,1.1147,1.11255,1.11035,1.10815,1.10595,1.1038,1.1016,1.0994,1.0972,1.09505,1.09285,1.09065,1.08845,1.0863,1.0841,1.0819,1.0797,1.07755,1.07535],"format":".5f"}},
  "shape":{"field":"arrow","type":"nominal","legend":null,"scale":{"domain":["a1","a2","a3","a4"],"range":[
   "M0,0L-4.8,18.35L-14.86,11.8Z",
   "M0,0L-11.69,-14.94L-0.39,-18.97Z",
   "M0,0L-8.04,17.19L-16.74,8.93Z",
   "M0,0L-15.06,-11.54L-5.12,-18.27Z"]}}
 }},
{"data":{"name":"levels"},"mark":{"type":"bar","size":10},
 "encoding":{
  "x":{"datum":464.9,"type":"quantitative","scale":{"domain":[-0.375,464.625],"nice":false,"zero":false},"axis":null},
  "x2":{"datum":475.4},
  "y":{"field":"level","type":"quantitative","scale":{"domain":[1.0736667,1.1178],"nice":false,"zero":false},
       "axis":{"orient":"right","title":null,"values":[1.1169,1.1147,1.11255,1.11035,1.10815,1.10595,1.1038,1.1016,1.0994,1.0972,1.09505,1.09285,1.09065,1.08845,1.0863,1.0841,1.0819,1.0797,1.07755,1.07535],"format":".5f"}},
  "color":{"condition":{"test":"datum.kind == 'price'","value":"#000000"},"value":"#ff0000"}
 }},
{"data":{"name":"levels"},"mark":{"type":"text","align":"left","baseline":"middle","font":"Liberation Sans","fontSize":10,"color":"#ffffff"},
 "encoding":{
  "x":{"datum":466.1,"type":"quantitative","scale":{"domain":[-0.375,464.625],"nice":false,"zero":false},"axis":null},
  "y":{"field":"level","type":"quantitative","scale":{"domain":[1.0736667,1.1178],"nice":false,"zero":false},
       "axis":{"orient":"right","title":null,"values":[1.1169,1.1147,1.11255,1.11035,1.10815,1.10595,1.1038,1.1016,1.0994,1.0972,1.09505,1.09285,1.09065,1.08845,1.0863,1.0841,1.0819,1.0797,1.07755,1.07535],"format":".5f"}},
  "text":{"field":"level","type":"quantitative","format":".5f"}
 }},
{"data":{"name":"title"},"mark":{"type":"text","align":"left","baseline":"middle","font":"Noto Sans CJK SC","fontSize":29,"color":"#111111"},
 "encoding":{
  "x":{"datum":79.125,"type":"quantitative","scale":{"domain":[-0.375,464.625],"nice":false,"zero":false},"axis":null},
  "y":{"datum":1.11545,"type":"quantitative","scale":{"domain":[1.0736667,1.1178],"nice":false,"zero":false},
       "axis":{"orient":"right","title":null,"values":[1.1169,1.1147,1.11255,1.11035,1.10815,1.10595,1.1038,1.1016,1.0994,1.0972,1.09505,1.09285,1.09065,1.08845,1.0863,1.0841,1.0819,1.0797,1.07755,1.07535],"format":".5f"}},
  "text":{"field":"label"}
 }}
]
}
